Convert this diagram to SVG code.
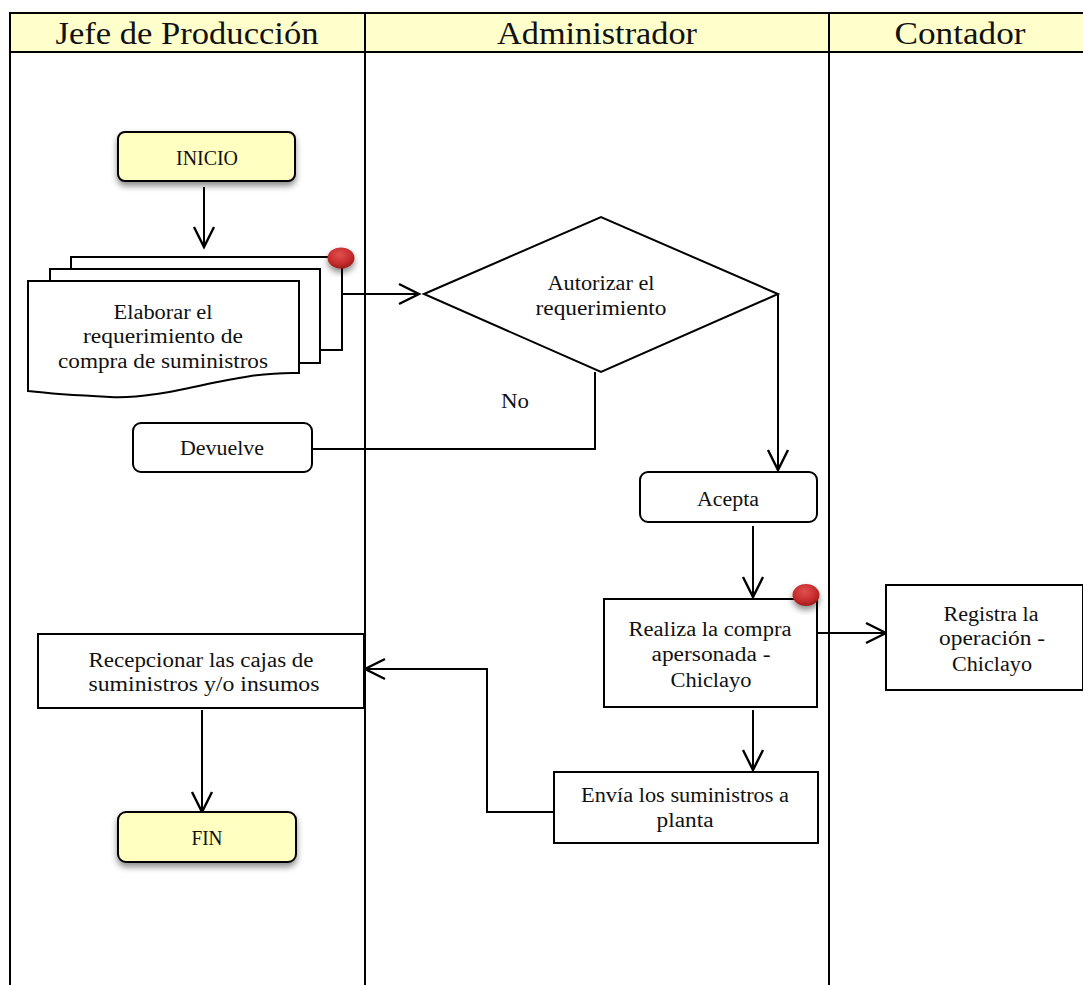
<svg xmlns="http://www.w3.org/2000/svg" width="1083" height="985" viewBox="0 0 1083 985">
  <style>
    .lane { stroke: #000; stroke-width: 2; fill: none; }
    .hdr { fill: #FFFFCC; }
    .htxt { font-family: "Liberation Serif", "Times New Roman", serif; font-size: 31px; fill: #111; text-anchor: middle; }
    .txt { font-family: "Liberation Serif", "Times New Roman", serif; font-size: 20px; fill: #111; text-anchor: middle; }
    .box { fill: #fff; stroke: #000; stroke-width: 2; }
    .term { fill: #FFFFC2; stroke: #000; stroke-width: 2; }
    .conn { fill: none; stroke: #000; stroke-width: 2; }
  </style>
  <defs>
    <marker id="arrow" viewBox="0 0 20 20" refX="20" refY="10" markerWidth="20" markerHeight="20" markerUnits="userSpaceOnUse" orient="auto" overflow="visible">
      <path d="M0,0 L20,10 L0,20" fill="none" stroke="#000" stroke-width="2.4"/>
    </marker>
    <filter id="shadow" x="-20%" y="-30%" width="140%" height="170%">
      <feDropShadow dx="0" dy="4" stdDeviation="3" flood-color="#000" flood-opacity="0.45"/>
    </filter>
    <radialGradient id="dot" cx="45%" cy="35%" r="65%">
      <stop offset="0" stop-color="#e05050"/>
      <stop offset="0.7" stop-color="#c42a2a"/>
      <stop offset="1" stop-color="#9a1c1c"/>
    </radialGradient>
  </defs>

  <rect width="1083" height="985" fill="#fff"/>

  <!-- swimlane table -->
  <g id="lanes">
    <rect class="hdr" x="10" y="13" width="1073" height="39"/>
    <line class="lane" x1="9" y1="13" x2="1083" y2="13"/>
    <line class="lane" x1="10" y1="52" x2="1083" y2="52"/>
    <line class="lane" x1="10" y1="12" x2="10" y2="985"/>
    <line class="lane" x1="365" y1="13" x2="365" y2="985"/>
    <line class="lane" x1="829" y1="13" x2="829" y2="985"/>
    <text class="htxt" x="187" y="44" textLength="263" lengthAdjust="spacingAndGlyphs">Jefe de Producción</text>
    <text class="htxt" x="597" y="44" textLength="200" lengthAdjust="spacingAndGlyphs">Administrador</text>
    <text class="htxt" x="960" y="44" textLength="131" lengthAdjust="spacingAndGlyphs">Contador</text>
  </g>

  <!-- connectors -->
  <g id="connectors">
    <line class="conn" x1="204" y1="187" x2="204" y2="247" marker-end="url(#arrow)"/>
    <line class="conn" x1="342" y1="294" x2="419" y2="294" marker-end="url(#arrow)"/>
    <polyline class="conn" points="595,372 595,449 312,449"/>
    <line class="conn" x1="778" y1="295" x2="778" y2="470" marker-end="url(#arrow)"/>
    <line class="conn" x1="753" y1="526" x2="753" y2="597" marker-end="url(#arrow)"/>
    <line class="conn" x1="817" y1="633" x2="886" y2="633" marker-end="url(#arrow)"/>
    <line class="conn" x1="753" y1="710" x2="753" y2="770" marker-end="url(#arrow)"/>
    <polyline class="conn" points="554,812 487,812 487,669 365,669" marker-end="url(#arrow)"/>
    <line class="conn" x1="202" y1="710" x2="202" y2="812" marker-end="url(#arrow)"/>
    <text class="txt" x="515" y="408" textLength="28" lengthAdjust="spacingAndGlyphs">No</text>
  </g>

  <!-- nodes -->
  <g id="inicio">
    <rect class="term" x="118" y="132" width="177" height="49" rx="7" filter="url(#shadow)"/>
    <text class="txt" x="207" y="165" textLength="62" lengthAdjust="spacingAndGlyphs">INICIO</text>
  </g>

  <g id="elaborar">
    <!-- back sheet -->
    <path class="box" d="M71,269 V257 H342 V350 H320"/>
    <!-- middle sheet -->
    <path class="box" d="M50,281 V269 H320 V363 H299"/>
    <!-- front sheet with wavy bottom -->
    <path class="box" d="M28,281 H299 V373 C230,371 170,400 110,397 C70,395 45,393 28,391 Z"/>
    <ellipse cx="341" cy="258" rx="13.5" ry="10.5" fill="url(#dot)" filter="url(#shadow)"/>
    <text class="txt" x="163" y="319" textLength="99" lengthAdjust="spacingAndGlyphs">Elaborar el</text>
    <text class="txt" x="163" y="343" textLength="160" lengthAdjust="spacingAndGlyphs">requerimiento de</text>
    <text class="txt" x="163" y="368" textLength="210" lengthAdjust="spacingAndGlyphs">compra de suministros</text>
  </g>

  <g id="autorizar">
    <polygon class="box" points="424,294 601,217 778,294 601,372"/>
    <text class="txt" x="601" y="290" textLength="107" lengthAdjust="spacingAndGlyphs">Autorizar el</text>
    <text class="txt" x="601" y="315" textLength="131" lengthAdjust="spacingAndGlyphs">requerimiento</text>
  </g>

  <g id="devuelve">
    <rect class="box" x="133" y="423" width="179" height="49" rx="8"/>
    <text class="txt" x="222" y="455" textLength="84" lengthAdjust="spacingAndGlyphs">Devuelve</text>
  </g>

  <g id="acepta">
    <rect class="box" x="640" y="472" width="177" height="50" rx="8"/>
    <text class="txt" x="728" y="506" textLength="62" lengthAdjust="spacingAndGlyphs">Acepta</text>
  </g>

  <g id="realiza">
    <rect class="box" x="604" y="599" width="213" height="108"/>
    <ellipse cx="806" cy="595" rx="13.5" ry="11" fill="url(#dot)" filter="url(#shadow)"/>
    <text class="txt" x="710" y="636" textLength="163" lengthAdjust="spacingAndGlyphs">Realiza la compra</text>
    <text class="txt" x="711" y="661" textLength="119" lengthAdjust="spacingAndGlyphs">apersonada -</text>
    <text class="txt" x="711" y="687" textLength="81" lengthAdjust="spacingAndGlyphs">Chiclayo</text>
  </g>

  <g id="registra">
    <rect class="box" x="886" y="585" width="197" height="105"/>
    <text class="txt" x="991" y="621" textLength="95" lengthAdjust="spacingAndGlyphs">Registra la</text>
    <text class="txt" x="992" y="645" textLength="106" lengthAdjust="spacingAndGlyphs">operación -</text>
    <text class="txt" x="992" y="671" textLength="80" lengthAdjust="spacingAndGlyphs">Chiclayo</text>
  </g>

  <g id="envia">
    <rect class="box" x="554" y="772" width="264" height="71"/>
    <text class="txt" x="685" y="802" textLength="208" lengthAdjust="spacingAndGlyphs">Envía los suministros a</text>
    <text class="txt" x="685" y="827" textLength="57" lengthAdjust="spacingAndGlyphs">planta</text>
  </g>

  <g id="recepcionar">
    <rect class="box" x="38" y="634" width="326" height="74"/>
    <text class="txt" x="201" y="667" textLength="225" lengthAdjust="spacingAndGlyphs">Recepcionar las cajas de</text>
    <text class="txt" x="204" y="691" textLength="231" lengthAdjust="spacingAndGlyphs">suministros y/o insumos</text>
  </g>

  <g id="fin">
    <rect class="term" x="118" y="812" width="178" height="50" rx="8" filter="url(#shadow)"/>
    <text class="txt" x="207" y="845" textLength="31" lengthAdjust="spacingAndGlyphs">FIN</text>
  </g>
</svg>
